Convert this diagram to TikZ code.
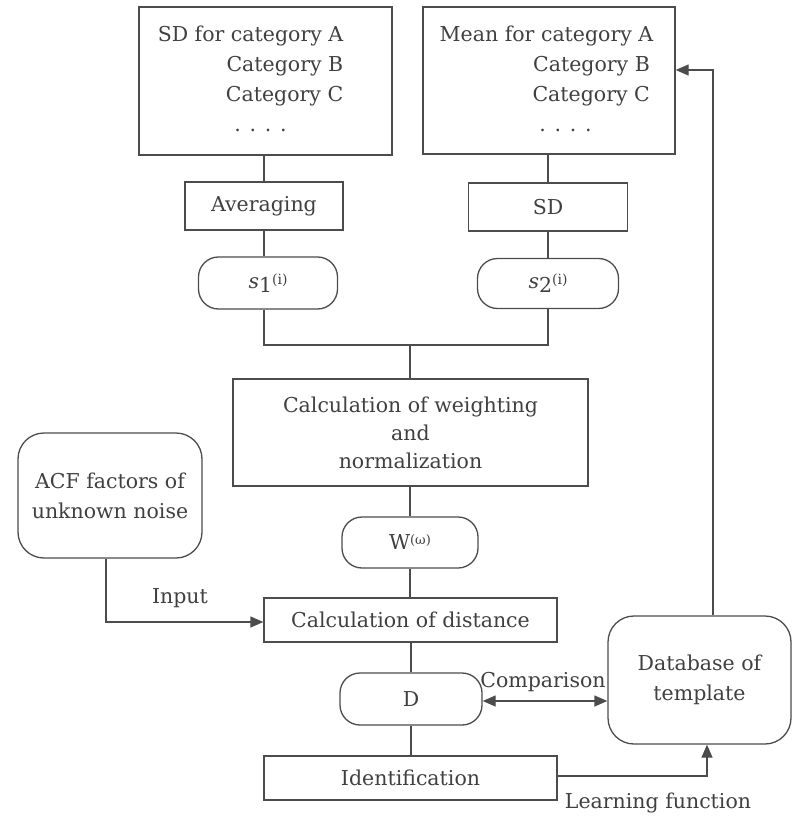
\documentclass[tikz,border=0pt]{standalone}
\usepackage{fontspec}
\setmainfont{DejaVu Serif}
\usetikzlibrary{arrows.meta}
\definecolor{lc}{gray}{0.3}
\definecolor{tc}{gray}{0.25}
\newcommand{\svar}[1]{{\itshape s}\raisebox{-4pt}{#1}\raisebox{4pt}{\fontsize{14}{14}\selectfont(i)}}
\begin{document}
\begin{tikzpicture}[x=1pt,y=-1pt,
  every node/.style={font=\fontsize{20.5}{30}\selectfont, text=tc},
  rect/.style={draw=lc, line width=1.3pt, inner sep=0pt, align=center},
  pill/.style={rect, rounded corners=20pt},
  rbox/.style={rect, rounded corners=26pt},
  lab/.style={inner sep=0pt},
  conn/.style={draw=lc, line width=1.3pt},
  arr/.style={conn, -{Triangle[length=13pt,width=11pt]}},
  darr/.style={conn, {Triangle[length=13pt,width=11pt]}-{Triangle[length=13pt,width=11pt]}}
]
\useasboundingbox (0,0) rectangle (793,818);
% top boxes
\node[rect, minimum width=253pt, minimum height=148pt] (sdcat) at (265.5,81)
  {\begin{tabular}{@{}r@{}}SD for category A\\Category B\\Category C\\\multicolumn{1}{@{}c@{}}{\hspace*{20pt}. . . .}\end{tabular}\hspace*{30pt}};
\node[rect, minimum width=252pt, minimum height=147pt] (mean) at (549,80.5)
  {\begin{tabular}{@{}r@{}}Mean for category A\\Category B\,\\Category C\,\\\multicolumn{1}{@{}c@{}}{\hspace*{38pt}. . . .}\end{tabular}\hspace*{5pt}};
\node[rect, minimum width=158pt, minimum height=48pt] (avg) at (264,206) {Averaging};
\node[rect, minimum width=159pt, minimum height=48pt] (sdn) at (548,207) {SD};
\node[pill, minimum width=139pt, minimum height=52pt] (s1) at (268,283) {\svar{1}};
\node[pill, minimum width=141pt, minimum height=50pt] (s2) at (548,283.5) {\svar{2}};
\coordinate (j1) at (264,345);
\coordinate (j2) at (548,345);
\coordinate (jm) at (410,345);
\node[rect, minimum width=355pt, minimum height=107pt, font=\fontsize{20.5}{28}\selectfont] (calc) at (410.5,432.5)
  {Calculation of weighting\\and\\normalization};
\node[pill, minimum width=136pt, minimum height=51pt] (w) at (410,542.5) {W\raisebox{5pt}{\fontsize{13}{13}\selectfont(ω)}};
\node[rect, minimum width=293pt, minimum height=44pt] (dist) at (410.5,620) {Calculation of distance};
\node[pill, minimum width=142pt, minimum height=52pt] (d) at (411,699) {D};
\node[rect, minimum width=293pt, minimum height=44pt] (ident) at (410.5,778) {Identification};
\node[rbox, minimum width=184pt, minimum height=125pt] (acf) at (110,495.5) {ACF factors of\\unknown noise};
\node[rbox, minimum width=183pt, minimum height=128pt] (db) at (699.5,680) {Database of\\template};
% vertical connectors
\draw[conn] (sdcat.south -| avg) -- (avg.north);
\draw[conn] (mean.south -| sdn) -- (sdn.north);
\draw[conn] (avg.south) -- (avg.south |- s1.north);
\draw[conn] (sdn.south) -- (s2.north);
\draw[conn] (s1.south -| j1) -- (j1) -- (j2) -- (s2.south);
\draw[conn] (jm) -- (calc.north -| jm);
\draw[conn] (calc.south -| w) -- (w.north);
\draw[conn] (w.south) -- (w.south |- dist.north);
\draw[conn] (dist.south -| d) -- (d.north);
\draw[conn] (d.south) -- (d.south |- ident.north);
% input
\coordinate (ia) at (106,622);
\draw[arr] (acf.south -| ia) -- (ia) -- (dist.west |- ia);
\node[lab] (inp) at (180,598) {Input};
% comparison
\coordinate (ca) at (482,701);
\draw[darr] (d.east |- ca) -- (db.west |- ca);
\node[lab] (cmp) at (543,682) {Comparison};
% learning
\coordinate (la) at (707,776);
\draw[arr] (ident.east |- la) -- (la) -- (la |- db.south);
\node[lab] (lrn) at (658,803) {Learning function};
% feedback
\coordinate (fa) at (713,70);
\draw[arr] (db.north -| fa) -- (fa) -- (mean.east |- fa);
\end{tikzpicture}
\end{document}
